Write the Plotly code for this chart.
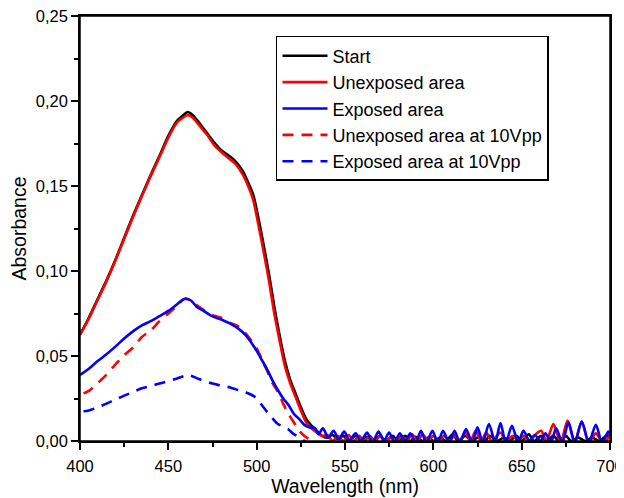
import plotly.graph_objects as go

# ---------------- data ----------------
start_x = [400, 405, 410, 415, 420, 425, 430, 435, 440, 445, 450, 455, 458, 461, 464, 468, 472, 476,
           480, 484, 488, 492, 495, 498, 501, 504, 507, 510, 513, 516, 519, 522, 525, 528, 531, 534, 537,
           540, 543, 546, 549, 552, 556, 559, 562, 566, 570, 573, 577, 580, 584, 587, 590, 594, 597,
           600, 604, 607, 611, 614, 618, 622, 625, 629, 632, 636, 640, 643, 647, 650, 654, 657, 661,
           664, 668, 671, 675, 678, 682, 686, 690, 694, 698, 700]
start_y = [0.0626, 0.0725, 0.0835, 0.0945, 0.1065, 0.1195, 0.1325, 0.1445, 0.1565, 0.1678, 0.1795, 0.1885,
           0.1912, 0.1935, 0.1915, 0.1865, 0.1810, 0.1755, 0.1710, 0.1680, 0.1645, 0.1590, 0.1525, 0.1450,
           0.1310, 0.1150, 0.0980, 0.0790, 0.0620, 0.0470, 0.0360, 0.0280, 0.0200, 0.0130, 0.0090, 0.0060,
           0.0030, 0.0020, 0.0035, 0.0010, 0.0030, 0.0000, 0.0030, 0.0000, 0.0025, 0.0000, 0.0030, 0.0000,
           0.0030, 0.0000, 0.0030, 0.0000, 0.0025, 0.0000, 0.0020, 0.0000, 0.0020, 0.0000, 0.0040, 0.0000,
           0.0030, 0.0000, 0.0020, 0.0000, 0.0030, 0.0000, 0.0020, 0.0000, 0.0030, 0.0000, 0.0040, 0.0000,
           0.0030, 0.0000, 0.0030, 0.0000, 0.0030, 0.0000, 0.0020, 0.0000, 0.0020, 0.0000, 0.0030, 0.0020]

unexp_x = [400, 405, 410, 415, 420, 425, 430, 435, 440, 445, 450, 455, 458, 461, 464, 468, 472, 476,
           480, 484, 488, 492, 495, 498, 501, 504, 507, 510, 513, 516, 519, 522, 525, 528, 531, 534, 537,
           540, 543, 546, 549, 552, 555, 558, 561, 564, 567, 570, 573, 576, 579, 582, 585, 588, 591, 594,
           597, 600, 603, 606, 609, 612, 615, 618, 621, 624, 627, 630, 633, 638, 641, 645, 648, 651, 654,
           657, 661, 664, 668, 672, 676, 680, 684, 688, 692, 696, 700]
unexp_y = [0.0624, 0.0720, 0.0830, 0.0940, 0.1060, 0.1190, 0.1318, 0.1440, 0.1558, 0.1670, 0.1785, 0.1875,
           0.1900, 0.1918, 0.1900, 0.1850, 0.1800, 0.1740, 0.1700, 0.1665, 0.1630, 0.1570, 0.1505, 0.1420,
           0.1270, 0.1110, 0.0940, 0.0750, 0.0590, 0.0440, 0.0340, 0.0260, 0.0180, 0.0110, 0.0075, 0.0050,
           0.0030, 0.0035, 0.0000, 0.0030, 0.0000, 0.0035, 0.0000, 0.0030, 0.0000, 0.0030, 0.0000, 0.0030,
           0.0000, 0.0020, 0.0000, 0.0030, 0.0000, 0.0040, 0.0000, 0.0040, 0.0000, 0.0030, 0.0000, 0.0030,
           0.0000, 0.0030, 0.0000, 0.0050, 0.0000, 0.0060, 0.0000, 0.0050, 0.0000, 0.0050, 0.0000, 0.0030,
           0.0000, 0.0030, 0.0000, 0.0030, 0.0060, 0.0000, 0.0100, -0.0010, 0.0120, -0.0010, 0.0115, -0.0010,
           0.0045, -0.0010, 0.0030]

exp_x = [400, 405, 410, 415, 420, 425, 430, 435, 440, 445, 450, 455, 458, 460, 463, 466, 470, 475, 480,
         485, 490, 494, 497, 500, 503, 506, 509, 512, 515, 518, 521, 524, 527, 530, 533, 535, 537.5, 540.5,
         543.5, 546.5, 549.5, 552.5, 556, 559, 562.5, 565.5, 569, 572, 575, 578, 581, 584, 587, 590, 593,
         596, 599.5, 602.5, 605.5, 609, 612, 615, 618.5, 622, 625, 628, 631.5, 635, 638, 641, 644.5, 648,
         651, 654.5, 657.5, 660.5, 663.5, 666.5, 669.5, 673, 676.5, 680, 684, 688, 692, 695.5, 699, 700]
exp_y = [0.0388, 0.0425, 0.0470, 0.0510, 0.0555, 0.0603, 0.0645, 0.0680, 0.0705, 0.0735, 0.0765, 0.0805,
         0.0830, 0.0838, 0.0825, 0.0790, 0.0765, 0.0733, 0.0715, 0.0690, 0.0658, 0.0620, 0.0578, 0.0530,
         0.0475, 0.0420, 0.0355, 0.0300, 0.0250, 0.0212, 0.0160, 0.0130, 0.0095, 0.0080, 0.0075, 0.0040,
         0.0075, 0.0020, 0.0060, 0.0010, 0.0055, 0.0005, 0.0045, 0.0000, 0.0050, -0.0010, 0.0055, 0.0000,
         0.0050, -0.0010, 0.0045, 0.0000, 0.0045, -0.0010, 0.0060, -0.0010, 0.0060, -0.0010, 0.0060, -0.0010,
         0.0060, -0.0010, 0.0070, -0.0010, 0.0080, -0.0010, 0.0100, -0.0010, 0.0105, -0.0010, 0.0090, -0.0010,
         0.0060, 0.0000, 0.0035, 0.0000, 0.0045, -0.0010, 0.0075, -0.0010, 0.0110, -0.0010, 0.0115, -0.0010,
         0.0095, -0.0010, 0.0055, 0.0030]

unexp10_x = [402, 405, 410, 415, 420, 425, 430, 435, 440, 445, 450, 455, 459, 462, 466, 470, 475, 480,
             485, 490, 494, 497, 500, 503, 506, 509, 512, 515, 518, 521, 524, 527, 530]
unexp10_y = [0.0280, 0.0295, 0.0340, 0.0390, 0.0450, 0.0505, 0.0550, 0.0612, 0.0650, 0.0705, 0.0750, 0.0795,
             0.0835, 0.0830, 0.0800, 0.0770, 0.0740, 0.0725, 0.0695, 0.0672, 0.0630, 0.0590, 0.0545, 0.0480,
             0.0410, 0.0340, 0.0290, 0.0220, 0.0160, 0.0110, 0.0060, 0.0030, 0.0010]

exp10_x = [402, 405, 410, 415, 420, 425, 430, 435, 440, 445, 450, 455, 459, 462, 466, 470, 475, 480,
           485, 490, 494, 497, 500, 503, 506, 509, 512, 515, 518, 521, 524, 527, 530]
exp10_y = [0.0175, 0.0180, 0.0198, 0.0220, 0.0243, 0.0267, 0.0288, 0.0310, 0.0323, 0.0338, 0.0352, 0.0368,
           0.0382, 0.0386, 0.0370, 0.0355, 0.0338, 0.0325, 0.0315, 0.0298, 0.0285, 0.0272, 0.0252, 0.0210,
           0.0170, 0.0133, 0.0100, 0.0085, 0.0068, 0.0040, 0.0025, 0.0000, -0.0030]

x_ticks = [400, 450, 500, 550, 600, 650, 700]
y_ticks = [0.00, 0.05, 0.10, 0.15, 0.20, 0.25]

# ---------------- figure ----------------
FONT = "Liberation Sans, Arial, Helvetica, sans-serif"
fig = go.Figure()

series = [
    ("Start", start_x, start_y, "#000000", "solid", 1),
    ("Unexposed area", unexp_x, unexp_y, "#ff0000", "solid", 2),
    ("Unexposed area at 10Vpp", unexp10_x, unexp10_y, "#ff0000", "11px,8px", 4),
    ("Exposed area at 10Vpp", exp10_x, exp10_y, "#0000ff", "11px,8px", 5),
    ("Exposed area", exp_x, exp_y, "#0000ff", "solid", 3),
]
for name, xs, ys, col, dash, rank in series:
    fig.add_trace(go.Scatter(
        x=xs, y=ys, mode="lines", name=name, legendrank=rank,
        line=dict(color=col, width=2.6, dash=dash, shape="spline", smoothing=0.8),
    ))

axis_common = dict(
    showgrid=False, zeroline=False, showline=True, linecolor="black", linewidth=1.5,
    mirror=True, ticks="outside", tickcolor="black", tickwidth=1.5, ticklen=7,
    tickfont=dict(family=FONT, size=16.5, color="black"), automargin=False,
    ticklabeloverflow="allow",
)

# the page body adds an 8 px offset, so the figure is sized/margined to put the
# plot area at x 80..610, y 16..441 of the 624x498 window
fig.update_layout(
    width=616, height=490,
    margin=dict(l=72, r=14, t=8, b=57, autoexpand=False),
    paper_bgcolor="white", plot_bgcolor="white",
    separators=", ",
    font=dict(family=FONT, color="black"),
    xaxis=dict(
        range=[400, 700], tickvals=x_ticks, ticklabelstandoff=2,
        minor=dict(dtick=25, tick0=400, ticks="outside", ticklen=4, tickcolor="black", tickwidth=1.5),
        title=dict(text="Wavelength (nm)", font=dict(family=FONT, size=19.5, color="black"), standoff=3),
        **axis_common,
    ),
    yaxis=dict(
        range=[0, 0.25], tickvals=y_ticks, tickformat=".2f",
        minor=dict(dtick=0.025, tick0=0, ticks="outside", ticklen=4, tickcolor="black", tickwidth=1.5),
        title=dict(text="Absorbance", font=dict(family=FONT, size=19.5, color="black"), standoff=4),
        **axis_common,
    ),
    yaxis2=dict(
        overlaying="y", side="right", anchor="x", range=[0, 0.25], tickvals=y_ticks,
        showticklabels=False, showgrid=False, zeroline=False, showline=False, automargin=False,
        ticks="inside", ticklen=7, tickwidth=1.5, tickcolor="black",
        minor=dict(dtick=0.025, tick0=0, ticks="inside", ticklen=4, tickcolor="black", tickwidth=1.5),
    ),
    shapes=[dict(type="rect", xref="paper", yref="paper", x0=0, x1=1, y0=0, y1=1,
                 line=dict(color="black", width=1.5), fillcolor="rgba(0,0,0,0)", layer="above")],
    legend=dict(
        x=0.3698, y=0.953, xanchor="left", yanchor="top",
        bgcolor="white", bordercolor="black", borderwidth=1.5,
        font=dict(family=FONT, size=18, color="black"),
        itemwidth=45, tracegroupgap=0,
    ),
    showlegend=True,
)

fig.write_html("out.html")
